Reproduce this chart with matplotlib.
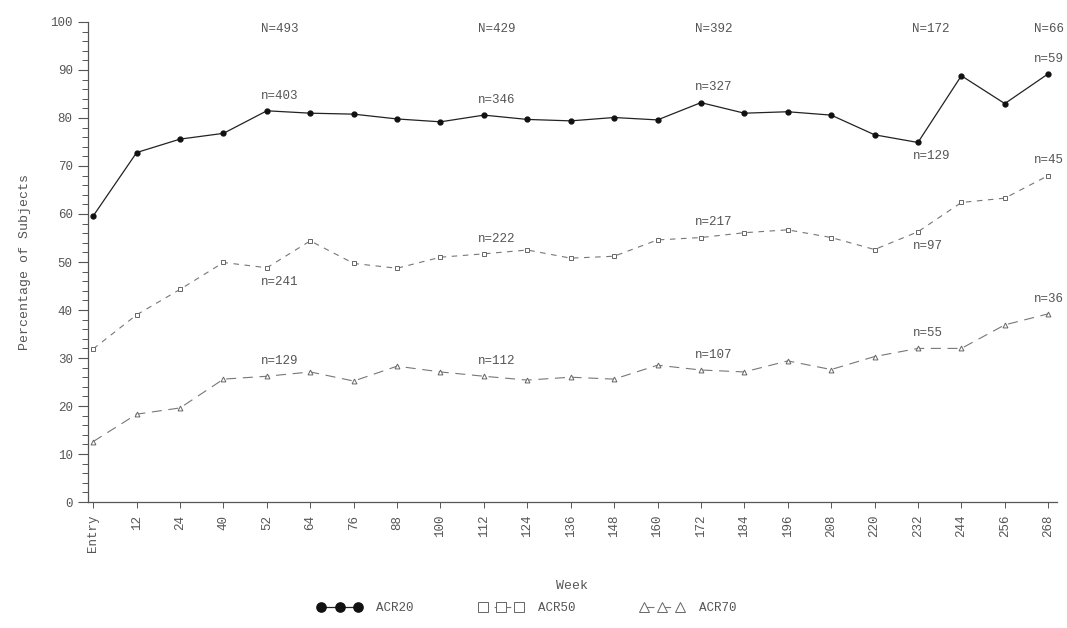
import matplotlib
matplotlib.use("Agg")
import matplotlib.pyplot as plt
from matplotlib.ticker import MultipleLocator

# week categories on the x axis
weeks = ['Entry', '12', '24', '40', '52', '64', '76', '88', '100', '112', '124', '136',
         '148', '160', '172', '184', '196', '208', '220', '232', '244', '256', '268']

acr20 = [59.6, 72.8, 75.6, 76.8, 81.5, 81.0, 80.8, 79.8, 79.2, 80.6, 79.7, 79.4,
         80.1, 79.6, 83.2, 81.0, 81.3, 80.6, 76.5, 74.9, 88.8, 83.0, 89.2]
acr50 = [31.9, 39.0, 44.3, 49.9, 48.8, 54.4, 49.7, 48.7, 51.0, 51.7, 52.5, 50.8,
         51.2, 54.6, 55.1, 56.1, 56.7, 55.1, 52.6, 56.3, 62.4, 63.3, 68.0]
acr70 = [12.6, 18.3, 19.6, 25.6, 26.2, 27.1, 25.2, 28.3, 27.1, 26.2, 25.4, 26.0,
         25.6, 28.5, 27.5, 27.1, 29.4, 27.6, 30.3, 32.0, 32.0, 36.9, 39.2]

# total subjects at selected weeks
big_n_weeks = ['52', '112', '172', '232', '268']
big_n = [493, 429, 392, 172, 66]

# responders at selected weeks (week, count, above/below point)
n20_weeks = ['52', '112', '172', '232', '268']
n20 = [403, 346, 327, 129, 59]
n20_pos = ['above', 'above', 'above', 'below', 'above']
n50_weeks = ['52', '112', '172', '232', '268']
n50 = [241, 222, 217, 97, 45]
n50_pos = ['below', 'above', 'above', 'below', 'above']
n70_weeks = ['52', '112', '172', '232', '268']
n70 = [129, 112, 107, 55, 36]
n70_pos = ['above', 'above', 'above', 'above', 'above']

FONT = 'Liberation Mono'
TXT = '#555555'

fig = plt.figure(figsize=(10.67, 6.28), dpi=100)
ax = fig.add_axes([0.0825, 0.2006, 0.908, 0.7644])

x = list(range(len(weeks)))
ax.plot(x, acr20, color='#222222', lw=0.9, marker='o', ms=3.5, mfc='#111111', mec='#111111',
        label='ACR20')
ax.plot(x, acr50, color='#777777', lw=0.8, ls=(0, (5, 5)), marker='s', ms=3.5, mfc='white',
        mec='#666666', mew=0.7, label='ACR50')
ax.plot(x, acr70, color='#777777', lw=0.8, ls=(0, (9, 6)), marker='^', ms=3.5, mfc='white',
        mec='#666666', mew=0.7, label='ACR70')


def label_points(wks, counts, vals, pos):
    for w, c, p in zip(wks, counts, pos):
        i = weeks.index(w)
        dy = 11 if p == 'above' else -10
        dx = -4 if i < len(weeks) - 1 else -10
        ax.annotate('n=%d' % c, (i, vals[i]), xytext=(dx, dy), textcoords='offset points',
                    ha='left', va='center', fontsize=9, family=FONT, color=TXT,
                    annotation_clip=False)


label_points(n20_weeks, n20, acr20, n20_pos)
label_points(n50_weeks, n50, acr50, n50_pos)
label_points(n70_weeks, n70, acr70, n70_pos)

for w, c in zip(big_n_weeks, big_n):
    i = weeks.index(w)
    dx = -4 if i < len(weeks) - 1 else -10
    ax.annotate('N=%d' % c, (i, 98.5), xytext=(dx, 0), textcoords='offset points',
                ha='left', va='center', fontsize=9, family=FONT, color=TXT,
                annotation_clip=False)

ax.set_xlim(-0.12, 22.2)
ax.set_ylim(0, 100)
ax.set_xticks(x)
ax.set_xticklabels(weeks, rotation=90, fontsize=9, family=FONT, color=TXT)
ax.yaxis.set_major_locator(MultipleLocator(10))
ax.yaxis.set_minor_locator(MultipleLocator(2))
for lab in ax.get_yticklabels():
    lab.set_fontsize(9)
    lab.set_family(FONT)
    lab.set_color(TXT)
ax.tick_params(axis='y', which='major', length=7, width=0.8, color='#555555', pad=4)
ax.tick_params(axis='y', which='minor', length=4, width=0.7, color='#555555')
ax.tick_params(axis='x', which='major', length=4, width=0.7, color='#555555', pad=5)

for s in ['top', 'right']:
    ax.spines[s].set_visible(False)
for s in ['left', 'bottom']:
    ax.spines[s].set_color('#555555')
    ax.spines[s].set_linewidth(0.9)

ax.set_ylabel('Percentage of Subjects', fontsize=9.5, family=FONT, color=TXT, labelpad=14)
ax.set_xlabel('Week', fontsize=9.5, family=FONT, color=TXT, labelpad=20)

h, l = ax.get_legend_handles_labels()
leg = fig.legend(h, l, loc='center', bbox_to_anchor=(0.494, 0.032), ncol=3, frameon=False,
                 numpoints=3, markerscale=1.9, handlelength=3.5, handletextpad=1.2,
                 columnspacing=5.2, prop={'family': FONT, 'size': 9})
for t in leg.get_texts():
    t.set_color(TXT)

fig.savefig('out.png', dpi=100)
